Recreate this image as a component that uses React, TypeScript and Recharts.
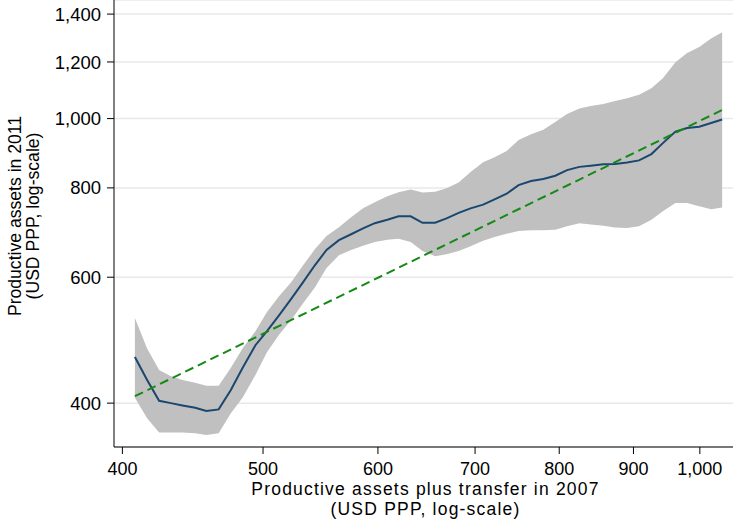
import React from "react";
import { ComposedChart, Area, Line, XAxis, YAxis, CartesianGrid } from "recharts";

// assets plus transfer in 2007 (USD PPP), evaluation points of the smoother
const assets2007 = [
  408, 416, 424, 432, 440, 449, 457, 466, 475, 484, 494, 503, 513, 523, 533, 543, 553,
  564, 575, 586, 597, 609, 620, 632, 644, 657, 669, 682, 695, 709, 722, 736, 750, 765,
  780, 795, 810, 826, 841, 858, 874, 891, 908, 926, 943, 962, 980, 999, 1018, 1036,
];

// smoothed assets in 2011
const smoothed = [
  464, 431, 403, 400, 397, 394, 390, 392, 417, 448, 482, 504, 531, 560, 591, 624, 655,
  676, 689, 702, 714, 722, 730, 730, 715, 715, 725, 738, 749, 758, 771, 785, 807, 818,
  823, 832, 847, 856, 859, 863, 864, 868, 874, 892, 924, 959, 970, 974, 986, 997,
];

// 95% band
const ciUpper = [
  526, 477, 445, 436, 431, 427, 423, 423, 448, 477, 504, 536, 565, 591, 624, 657, 685,
  705, 728, 749, 764, 779, 789, 796, 788, 790, 799, 814, 842, 869, 883, 901, 933, 951,
  965, 989, 1015, 1033, 1041, 1048, 1058, 1068, 1080, 1103, 1139, 1199, 1235, 1259, 1294, 1321,
];
const ciLower = [
  407, 381, 364, 364, 364, 363, 361, 363, 387, 407, 438, 471, 499, 523, 552, 581, 618,
  644, 655, 664, 672, 677, 679, 672, 653, 642, 646, 653, 663, 675, 683, 690, 696, 698,
  698, 699, 707, 714, 711, 708, 704, 703, 707, 722, 742, 762, 762, 754, 747, 751,
];

// linear fit (log-log), ends only
const fitStart = 409;
const fitEnd = 1028;

const xTicks = [400, 500, 600, 700, 800, 900, 1000];
const yTicks = [400, 600, 800, 1000, 1200, 1400];

const data = assets2007.map((x, i) => ({
  x,
  y: smoothed[i],
  band: [ciLower[i], ciUpper[i]],
  fit: i === 0 ? fitStart : i === assets2007.length - 1 ? fitEnd : null,
}));

const FONT = '"Liberation Sans", Arial, Helvetica, sans-serif';
const fmt = (v: number) => v.toLocaleString("en-US");

const XTitle = (props: any) => {
  const vb = props.viewBox;
  const cx = vb.x + vb.width / 2 + 2;
  return (
    <text x={cx} textAnchor="middle" fontFamily={FONT} fontSize={17.5} letterSpacing={1.2} fill="#000">
      <tspan x={cx} y={495}>Productive assets plus transfer in 2007</tspan>
      <tspan x={cx} y={514.5}>(USD PPP, log-scale)</tspan>
    </text>
  );
};

const YTitle = () => {
  const cy = 216;
  return (
    <g fontFamily={FONT} fontSize={17.6} fill="#000">
      <text x={20.7} y={cy} textAnchor="middle" transform={`rotate(-90, 20.7, ${cy})`}>
        Productive assets in 2011
      </text>
      <text x={38.5} y={cy} textAnchor="middle" transform={`rotate(-90, 38.5, ${cy})`}>
        (USD PPP, log-scale)
      </text>
    </g>
  );
};

export default function App() {
  return (
    <div style={{ position: "absolute", left: 0, top: 0, width: 733, height: 519, background: "#fff" }}>
      <ComposedChart width={733} height={519} data={data} margin={{ top: 0, right: 0, left: 0, bottom: 0 }}>
        <CartesianGrid vertical={false} stroke="#e8e8e8" strokeWidth={1.5} />
        <XAxis
          dataKey="x"
          type="number"
          scale="log"
          domain={[394.7, 1054]}
          allowDataOverflow
          ticks={xTicks}
          tickFormatter={fmt}
          height={72}
          tickSize={7}
          tickMargin={8}
          stroke="#000"
          tick={{ fill: "#000", fontSize: 18, fontFamily: FONT }}
          tickLine={{ stroke: "#000" }}
          label={{ content: XTitle }}
        />
        <YAxis
          type="number"
          scale="log"
          domain={[347.3, 1465]}
          allowDataOverflow
          ticks={yTicks}
          tickFormatter={fmt}
          width={114}
          tickSize={7}
          tickMargin={6}
          stroke="#000"
          tick={{ fill: "#000", fontSize: 18.5, fontFamily: FONT }}
          tickLine={{ stroke: "#000" }}
          label={{ content: YTitle }}
        />
        <Area
          dataKey="band"
          type="linear"
          stroke="none"
          fill="#c0c0c0"
          fillOpacity={1}
          isAnimationActive={false}
          dot={false}
          activeDot={false}
        />
        <Line
          dataKey="y"
          type="linear"
          stroke="#1a476f"
          strokeWidth={2}
          dot={false}
          activeDot={false}
          isAnimationActive={false}
        />
        <Line
          dataKey="fit"
          type="linear"
          stroke="#148a14"
          strokeWidth={2}
          strokeDasharray="9 5"
          connectNulls
          dot={false}
          activeDot={false}
          isAnimationActive={false}
        />
      </ComposedChart>
    </div>
  );
}
